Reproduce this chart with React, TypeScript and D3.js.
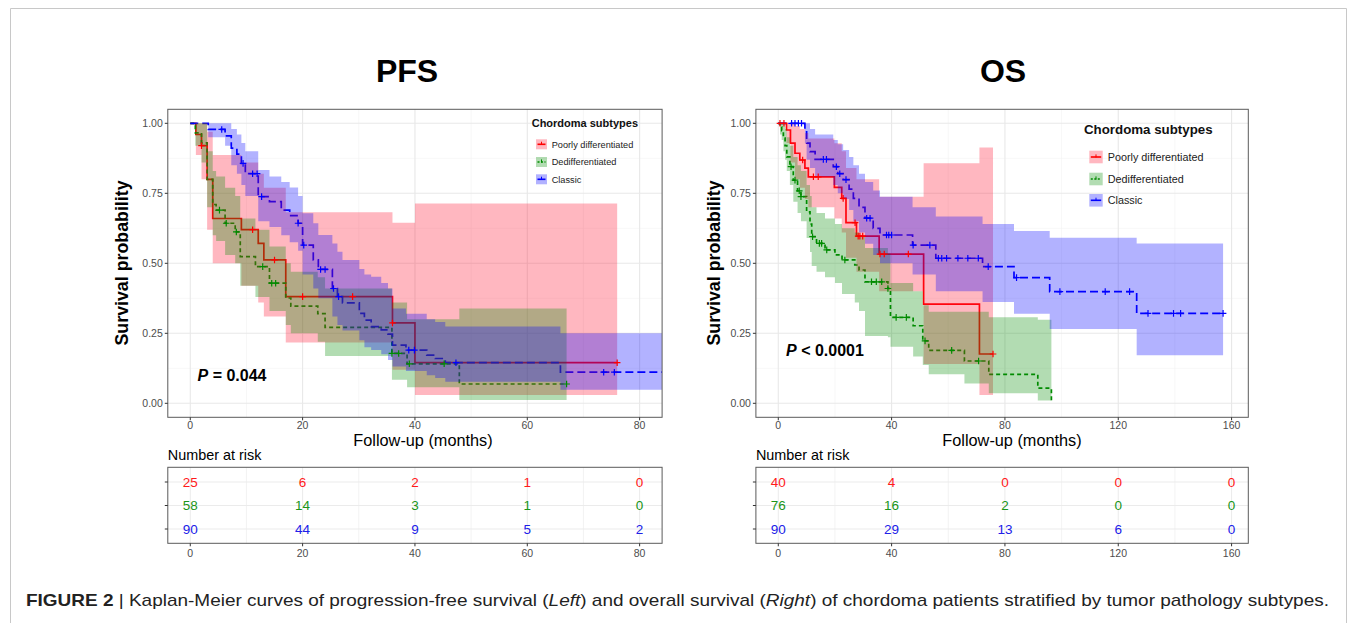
import * as d3 from "d3";

const W = 1357;
const H = 623;
const FONT = "'Liberation Sans', Arial, Helvetica, sans-serif";

const SUBTYPES = ["Poorly differentiated", "Dedifferentiated", "Classic"];
const LINE_COLORS = ["#ff0000", "#008b00", "#0000ff"];
const BAND_COLORS = ["#ff1030", "#008b00", "#0000ff"];
const TEXT_COLORS = ["#ff1a1a", "#1a951a", "#2020e8"];
const DASHES = [null, "4 3", "8 4"];

// ---------------- PFS ----------------
const PFS_POOR_T = [0, 1, 2, 3, 4, 9.1, 12.1, 13.1, 17, 36, 40];
const PFS_POOR_S = [1, 0.96, 0.92, 0.8, 0.66, 0.62, 0.571, 0.512, 0.381, 0.287, 0.145];
const PFS_POOR_UP = [1, 1, 1, 0.97, 0.887, 0.86, 0.82, 0.77, 0.682, 0.645, 0.714];
const PFS_POOR_LO = [1, 0.887, 0.8, 0.62, 0.5, 0.42, 0.36, 0.31, 0.217, 0.12, 0.03];
const PFS_POOR_CENS = [2, 11.1, 15, 20, 28.9, 36, 76];
const PFS_POOR_END = 76;

const PFS_DEDIFF_T = [0, 0.9, 2, 3, 4, 4.6, 6.2, 8, 8.9, 11.6, 14.1, 17, 17.9, 22.7, 24, 35.9, 38.6, 47.9];
const PFS_DEDIFF_S = [1, 0.966, 0.93, 0.8, 0.71, 0.69, 0.643, 0.612, 0.524, 0.488, 0.429, 0.376, 0.347, 0.32, 0.271, 0.178, 0.141, 0.069];
const PFS_DEDIFF_UP = [1, 1, 1, 0.9, 0.83, 0.81, 0.77, 0.74, 0.66, 0.62, 0.56, 0.5, 0.47, 0.45, 0.41, 0.36, 0.3, 0.339];
const PFS_DEDIFF_LO = [1, 0.92, 0.86, 0.7, 0.6, 0.58, 0.53, 0.5, 0.42, 0.38, 0.33, 0.28, 0.25, 0.22, 0.169, 0.084, 0.057, 0.012];
const PFS_DEDIFF_CENS = [5.2, 6.4, 8.2, 12.9, 14.5, 15.2, 35.9, 37.1, 39, 45.2, 67];
const PFS_DEDIFF_END = 67;

const PFS_CLASSIC_T = [0, 3.2, 6.2, 7.3, 8.3, 9.1, 9.8, 12.1, 14.1, 16.2, 17.7, 19.2, 20, 21.9, 22.8, 25.3, 26.2, 27.1, 30.1, 31, 32.2, 34, 35.2, 36, 38.4, 42.1, 43.6, 45.4, 65.9];
const PFS_CLASSIC_S = [1, 0.978, 0.955, 0.911, 0.89, 0.857, 0.82, 0.738, 0.72, 0.69, 0.67, 0.643, 0.565, 0.512, 0.478, 0.41, 0.381, 0.359, 0.321, 0.297, 0.274, 0.262, 0.247, 0.208, 0.19, 0.172, 0.16, 0.145, 0.111];
const PFS_CLASSIC_UP = [1, 1, 1, 0.98, 0.96, 0.93, 0.9, 0.833, 0.81, 0.79, 0.771, 0.74, 0.679, 0.643, 0.601, 0.571, 0.541, 0.512, 0.48, 0.46, 0.452, 0.43, 0.41, 0.339, 0.32, 0.3, 0.29, 0.274, 0.25];
const PFS_CLASSIC_LO = [1, 0.95, 0.92, 0.85, 0.82, 0.78, 0.74, 0.65, 0.63, 0.6, 0.575, 0.545, 0.46, 0.41, 0.375, 0.31, 0.28, 0.26, 0.225, 0.2, 0.19, 0.175, 0.155, 0.131, 0.115, 0.1, 0.09, 0.077, 0.048];
const PFS_CLASSIC_CENS = [5.6, 9.4, 11.1, 11.9, 12.7, 19.2, 20.2, 23.2, 24, 25.5, 26.4, 38.9, 39.9, 47.3, 73.6, 75.5];
const PFS_CLASSIC_END = 84;

const PFS_RISK_TIMES = [0, 20, 40, 60, 80];
const PFS_RISK_POOR = [25, 6, 2, 1, 0];
const PFS_RISK_DEDIFF = [58, 14, 3, 1, 0];
const PFS_RISK_CLASSIC = [90, 44, 9, 5, 2];

// ---------------- OS ----------------
const OS_POOR_T = [0, 2.9, 4.3, 5.9, 7.6, 9.4, 10.6, 19.8, 22.4, 23.9, 27.6, 35.6, 51.3, 71];
const OS_POOR_S = [1, 0.976, 0.929, 0.893, 0.869, 0.84, 0.809, 0.771, 0.732, 0.645, 0.597, 0.533, 0.354, 0.176];
const OS_POOR_UP = [1, 1, 1, 0.99, 0.98, 0.965, 0.946, 0.929, 0.9, 0.84, 0.8, 0.738, 0.857, 0.914];
const OS_POOR_LO = [1, 0.93, 0.86, 0.8, 0.77, 0.73, 0.7, 0.66, 0.61, 0.52, 0.47, 0.4, 0.14, 0.03];
const OS_POOR_CENS = [0.6, 2, 8.6, 12.4, 14.1, 22.9, 27.1, 28.2, 28.8, 29.8, 35.9, 37.4, 45.9, 75.8];
const OS_POOR_END = 75.8;

const OS_DEDIFF_T = [0, 0.6, 1.2, 1.8, 2.4, 3, 4.1, 5.3, 6.8, 8, 10, 11.2, 11.8, 13.5, 16.5, 20, 22.5, 27, 28.5, 30.6, 38.7, 39.6, 47.6, 51, 53.1, 65.7, 74.3, 91.6, 96.4];
const OS_DEDIFF_S = [1, 0.987, 0.974, 0.947, 0.92, 0.88, 0.845, 0.797, 0.759, 0.738, 0.684, 0.64, 0.595, 0.571, 0.548, 0.53, 0.512, 0.494, 0.476, 0.434, 0.41, 0.307, 0.277, 0.223, 0.189, 0.151, 0.103, 0.054, 0];
const OS_DEDIFF_UP = [1, 1, 1, 1, 0.98, 0.95, 0.92, 0.88, 0.85, 0.83, 0.78, 0.74, 0.7, 0.68, 0.66, 0.64, 0.625, 0.61, 0.595, 0.555, 0.535, 0.43, 0.4, 0.35, 0.327, 0.327, 0.307, 0.298, 0.298];
const OS_DEDIFF_LO = [1, 0.96, 0.94, 0.9, 0.87, 0.83, 0.78, 0.72, 0.68, 0.65, 0.59, 0.54, 0.49, 0.47, 0.45, 0.43, 0.39, 0.36, 0.33, 0.24, 0.236, 0.202, 0.167, 0.137, 0.104, 0.071, 0.036, 0.01, 0];
const OS_DEDIFF_CENS = [4.5, 5.9, 7.4, 8, 12.1, 14.5, 15.3, 17.1, 23.5, 32.9, 34.6, 36.5, 38.7, 41.6, 45.2, 51.8, 61.2, 70.7];
const OS_DEDIFF_END = 96.4;

const OS_CLASSIC_T = [0, 9.4, 10, 11.2, 13, 19.4, 21, 22.9, 25, 26.5, 28.5, 30.6, 33.5, 35.9, 47.4, 55.6, 72.1, 83.2, 95.8, 126.5];
const OS_CLASSIC_S = [1, 0.976, 0.929, 0.899, 0.871, 0.845, 0.82, 0.799, 0.765, 0.732, 0.7, 0.661, 0.625, 0.601, 0.565, 0.518, 0.488, 0.449, 0.399, 0.321];
const OS_CLASSIC_UP = [1, 1, 1, 0.98, 0.96, 0.94, 0.925, 0.905, 0.88, 0.85, 0.82, 0.79, 0.76, 0.738, 0.7, 0.667, 0.64, 0.615, 0.591, 0.571];
const OS_CLASSIC_LO = [1, 0.93, 0.87, 0.84, 0.81, 0.78, 0.75, 0.73, 0.69, 0.65, 0.61, 0.57, 0.53, 0.5, 0.46, 0.4, 0.362, 0.32, 0.265, 0.172];
const OS_CLASSIC_CENS = [4.7, 5.9, 7.1, 8.2, 15.9, 17, 20.5, 21.7, 23.9, 31.2, 32.4, 38.2, 39, 40, 47.6, 53.5, 56.5, 57.7, 59.4, 63.4, 66.9, 70.6, 74.1, 84.1, 99.4, 115.4, 124, 130.5, 139.5, 142, 157];
const OS_CLASSIC_END = 157;

const OS_RISK_TIMES = [0, 40, 80, 120, 160];
const OS_RISK_POOR = [40, 4, 0, 0, 0];
const OS_RISK_DEDIFF = [76, 16, 2, 0, 0];
const OS_RISK_CLASSIC = [90, 29, 13, 6, 0];

const Y_TICKS = [0, 0.25, 0.5, 0.75, 1];
const Y_MINOR = [0.125, 0.375, 0.625, 0.875];

type Curve = { t: number[]; s: number[]; up: number[]; lo: number[]; cens: number[]; end: number };

type Spec = {
  id: string;
  title: string;
  titleX: number;
  range: [number, number];
  domain: [number, number];
  ticks: number[];
  minor: number[];
  curves: Curve[];
  pText: string;
  pX: number;
  pY: number;
  pSize: number;
  leg: { x: number; titleY: number; titleSize: number; keyX: number; keyW: number; keyH: number; rows: number[]; labelX: number; labelSize: number };
  riskTimes: number[];
  risk: number[][];
  xTitleX: number;
  yTitleX: number;
};

const TOP = 109.3;
const BOTTOM = 417.3;
const TAB_TOP = 467.3;
const TAB_BOTTOM = 543.3;

const PFS: Spec = {
  id: "pfs",
  title: "PFS",
  titleX: 407,
  range: [167.8, 662.1],
  domain: [-4, 84],
  ticks: [0, 20, 40, 60, 80],
  minor: [10, 30, 50, 70],
  curves: [
    { t: PFS_POOR_T, s: PFS_POOR_S, up: PFS_POOR_UP, lo: PFS_POOR_LO, cens: PFS_POOR_CENS, end: PFS_POOR_END },
    { t: PFS_DEDIFF_T, s: PFS_DEDIFF_S, up: PFS_DEDIFF_UP, lo: PFS_DEDIFF_LO, cens: PFS_DEDIFF_CENS, end: PFS_DEDIFF_END },
    { t: PFS_CLASSIC_T, s: PFS_CLASSIC_S, up: PFS_CLASSIC_UP, lo: PFS_CLASSIC_LO, cens: PFS_CLASSIC_CENS, end: PFS_CLASSIC_END },
  ],
  pText: "= 0.044",
  pX: 197.5,
  pY: 381,
  pSize: 16,
  leg: { x: 531.7, titleY: 127, titleSize: 11, keyX: 536, keyW: 11, keyH: 10, rows: [144.3, 162, 179.3], labelX: 551.7, labelSize: 9.2 },
  riskTimes: PFS_RISK_TIMES,
  risk: [PFS_RISK_POOR, PFS_RISK_DEDIFF, PFS_RISK_CLASSIC],
  xTitleX: 423,
  yTitleX: 128,
};

const OS: Spec = {
  id: "os",
  title: "OS",
  titleX: 1003,
  range: [755.9, 1248.3],
  domain: [-7.9, 165.9],
  ticks: [0, 40, 80, 120, 160],
  minor: [20, 60, 100, 140],
  curves: [
    { t: OS_POOR_T, s: OS_POOR_S, up: OS_POOR_UP, lo: OS_POOR_LO, cens: OS_POOR_CENS, end: OS_POOR_END },
    { t: OS_DEDIFF_T, s: OS_DEDIFF_S, up: OS_DEDIFF_UP, lo: OS_DEDIFF_LO, cens: OS_DEDIFF_CENS, end: OS_DEDIFF_END },
    { t: OS_CLASSIC_T, s: OS_CLASSIC_S, up: OS_CLASSIC_UP, lo: OS_CLASSIC_LO, cens: OS_CLASSIC_CENS, end: OS_CLASSIC_END },
  ],
  pText: "< 0.0001",
  pX: 786,
  pY: 356,
  pSize: 16,
  leg: { x: 1084, titleY: 134, titleSize: 13.3, keyX: 1089.3, keyW: 13.4, keyH: 12.6, rows: [157, 179, 200.3], labelX: 1107.7, labelSize: 10.8 },
  riskTimes: OS_RISK_TIMES,
  risk: [OS_RISK_POOR, OS_RISK_DEDIFF, OS_RISK_CLASSIC],
  xTitleX: 1012,
  yTitleX: 720,
};

function survAt(c: Curve, time: number) {
  let v = c.s[0];
  c.t.forEach((ti, i) => {
    if (ti <= time) v = c.s[i];
  });
  return v;
}

function Panel({ spec }: { spec: Spec }) {
  const x = d3.scaleLinear().domain(spec.domain).range(spec.range);
  const y = d3.scaleLinear().domain([-0.05, 1.05]).range([BOTTOM, TOP]);
  const [x0, x1] = spec.range;

  const line = d3
    .line<[number, number]>()
    .x((d) => x(d[0]))
    .y((d) => y(d[1]))
    .curve(d3.curveStepAfter);
  const band = d3
    .area<[number, number, number]>()
    .x((d) => x(d[0]))
    .y0((d) => y(d[2]))
    .y1((d) => y(d[1]))
    .curve(d3.curveStepAfter);

  const linePts = (c: Curve) => {
    const pts = c.t.map((t, i) => [t, c.s[i]] as [number, number]);
    pts.push([c.end, c.s[c.s.length - 1]]);
    return pts;
  };
  const bandPts = (c: Curve) => {
    const pts = c.t.map((t, i) => [t, c.up[i], c.lo[i]] as [number, number, number]);
    const n = c.t.length - 1;
    pts.push([c.end, c.up[n], c.lo[n]]);
    return pts;
  };

  const rowY = d3.scalePoint<number>().domain([0, 1, 2]).range([482, 529]);
  const clipId = `clip-${spec.id}`;
  const tickColor = "#4d4d4d";

  return (
    <g>
      <defs>
        <clipPath id={clipId}>
          <rect x={x0} y={TOP} width={x1 - x0} height={BOTTOM - TOP} />
        </clipPath>
      </defs>
      <text x={spec.titleX} y={82} textAnchor="middle" fontSize={32} fontWeight="bold" fill="#000">
        {spec.title}
      </text>

      {/* panel grid */}
      <rect x={x0} y={TOP} width={x1 - x0} height={BOTTOM - TOP} fill="#fff" />
      {spec.minor.map((m) => (
        <line key={`vm${m}`} x1={x(m)} x2={x(m)} y1={TOP} y2={BOTTOM} stroke="#f2f2f2" strokeWidth={0.6} />
      ))}
      {Y_MINOR.map((m) => (
        <line key={`hm${m}`} x1={x0} x2={x1} y1={y(m)} y2={y(m)} stroke="#f2f2f2" strokeWidth={0.6} />
      ))}
      {spec.ticks.map((t) => (
        <line key={`v${t}`} x1={x(t)} x2={x(t)} y1={TOP} y2={BOTTOM} stroke="#e8e8e8" strokeWidth={1.1} />
      ))}
      {Y_TICKS.map((t) => (
        <line key={`h${t}`} x1={x0} x2={x1} y1={y(t)} y2={y(t)} stroke="#e8e8e8" strokeWidth={1.1} />
      ))}

      <g clipPath={`url(#${clipId})`}>
        {spec.curves.map((c, i) => (
          <path
            key={`l${i}`}
            d={line(linePts(c)) ?? ""}
            fill="none"
            stroke={LINE_COLORS[i]}
            strokeWidth={1.7}
            strokeDasharray={DASHES[i] ?? undefined}
          />
        ))}
        {spec.curves.map((c, i) => (
          <path key={`b${i}`} d={band(bandPts(c)) ?? ""} fill={BAND_COLORS[i]} fillOpacity={0.3} stroke="none" />
        ))}
        {spec.curves.map((c, i) =>
          c.cens.map((ct, j) => {
            const cx = x(ct);
            const cy = y(survAt(c, ct));
            return (
              <path
                key={`c${i}-${j}`}
                d={`M${cx - 3.3},${cy}h6.6M${cx},${cy - 3.3}v6.6`}
                stroke={LINE_COLORS[i]}
                strokeWidth={1.2}
              />
            );
          }),
        )}
      </g>
      <rect x={x0} y={TOP} width={x1 - x0} height={BOTTOM - TOP} fill="none" stroke="#5a5a5a" strokeWidth={1} />

      {/* axes */}
      {Y_TICKS.map((t) => (
        <g key={`yt${t}`}>
          <line x1={x0 - 3} x2={x0} y1={y(t)} y2={y(t)} stroke="#333" />
          <text x={x0 - 5} y={y(t)} dy="0.35em" textAnchor="end" fontSize={10.5} fill={tickColor}>
            {d3.format(".2f")(t)}
          </text>
        </g>
      ))}
      {spec.ticks.map((t) => (
        <g key={`xt${t}`}>
          <line x1={x(t)} x2={x(t)} y1={BOTTOM} y2={BOTTOM + 3} stroke="#333" />
          <text x={x(t)} y={429.3} textAnchor="middle" fontSize={10.5} fill={tickColor}>
            {t}
          </text>
        </g>
      ))}
      <text x={spec.xTitleX} y={445.5} textAnchor="middle" fontSize={16.3} fill="#000">
        Follow-up (months)
      </text>
      <text
        transform={`translate(${spec.yTitleX},263) rotate(-90)`}
        textAnchor="middle"
        fontSize={17.8}
        fontWeight="bold"
        fill="#000"
      >
        Survival probability
      </text>

      {/* p value */}
      <text x={spec.pX} y={spec.pY} fontSize={spec.pSize} fontWeight="bold" fill="#000">
        <tspan fontStyle="italic">P</tspan> {spec.pText}
      </text>

      {/* legend */}
      <text x={spec.leg.x} y={spec.leg.titleY} fontSize={spec.leg.titleSize} fontWeight="bold" fill="#111">
        Chordoma subtypes
      </text>
      {SUBTYPES.map((name, i) => {
        const cy = spec.leg.rows[i];
        const kx = spec.leg.keyX;
        const kw = spec.leg.keyW;
        return (
          <g key={name}>
            <rect
              x={kx}
              y={cy - spec.leg.keyH / 2}
              width={kw}
              height={spec.leg.keyH}
              fill={BAND_COLORS[i]}
              fillOpacity={0.3}
            />
            <line
              x1={kx + 1.5}
              x2={kx + kw - 1.5}
              y1={cy}
              y2={cy}
              stroke={LINE_COLORS[i]}
              strokeWidth={1.6}
              strokeDasharray={i === 1 ? "2 1.5" : undefined}
            />
            <line x1={kx + kw / 2} x2={kx + kw / 2} y1={cy - 2.6} y2={cy + 0.5} stroke={LINE_COLORS[i]} strokeWidth={1} />
            <text x={spec.leg.labelX} y={cy} dy="0.35em" fontSize={spec.leg.labelSize} fill="#222">
              {name}
            </text>
          </g>
        );
      })}

      {/* risk table */}
      <text x={x0} y={460} fontSize={14.4} fill="#000">
        Number at risk
      </text>
      <rect x={x0} y={TAB_TOP} width={x1 - x0} height={TAB_BOTTOM - TAB_TOP} fill="#fff" />
      {spec.minor.map((m) => (
        <line key={`tm${m}`} x1={x(m)} x2={x(m)} y1={TAB_TOP} y2={TAB_BOTTOM} stroke="#f0f0f0" strokeWidth={0.8} />
      ))}
      {spec.ticks.map((t) => (
        <line key={`tv${t}`} x1={x(t)} x2={x(t)} y1={TAB_TOP} y2={TAB_BOTTOM} stroke="#ebebeb" strokeWidth={1} />
      ))}
      {[0, 1, 2].map((r) => (
        <line key={`th${r}`} x1={x0} x2={x1} y1={rowY(r)} y2={rowY(r)} stroke="#ebebeb" strokeWidth={1} />
      ))}
      {spec.risk.map((row, r) =>
        row.map((v, j) => (
          <text
            key={`r${r}-${j}`}
            x={x(spec.riskTimes[j])}
            y={rowY(r)}
            dy="0.36em"
            textAnchor="middle"
            fontSize={13.5}
            fill={TEXT_COLORS[r]}
          >
            {v}
          </text>
        )),
      )}
      <rect x={x0} y={TAB_TOP} width={x1 - x0} height={TAB_BOTTOM - TAB_TOP} fill="none" stroke="#5a5a5a" strokeWidth={1} />
      {[0, 1, 2].map((r) => (
        <line key={`ty${r}`} x1={x0 - 3} x2={x0} y1={rowY(r)} y2={rowY(r)} stroke="#333" />
      ))}
      {spec.ticks.map((t) => (
        <g key={`tx${t}`}>
          <line x1={x(t)} x2={x(t)} y1={TAB_BOTTOM} y2={TAB_BOTTOM + 3} stroke="#333" />
          <text x={x(t)} y={557} textAnchor="middle" fontSize={10.5} fill={tickColor}>
            {t}
          </text>
        </g>
      ))}
    </g>
  );
}

export default function App() {
  return (
    <div style={{ position: "absolute", left: 0, top: 0 }}>
      <svg width={W} height={H} fontFamily={FONT} style={{ display: "block", background: "#fff" }}>
        <rect x={0} y={0} width={W} height={H} fill="#fff" />
        <path d={`M10.5,${H + 5}V8.5H1346.5V${H + 5}`} fill="none" stroke="#c8c8c8" strokeWidth={1} />
        <Panel spec={PFS} />
        <Panel spec={OS} />
        <text x={26} y={606} fontSize={17} fill="#222" textLength={1303} lengthAdjust="spacingAndGlyphs">
          <tspan fontWeight="bold">FIGURE 2</tspan>
          {" | Kaplan-Meier curves of progression-free survival ("}
          <tspan fontStyle="italic">Left</tspan>
          {") and overall survival ("}
          <tspan fontStyle="italic">Right</tspan>
          {") of chordoma patients stratified by tumor pathology subtypes."}
        </text>
      </svg>
    </div>
  );
}
